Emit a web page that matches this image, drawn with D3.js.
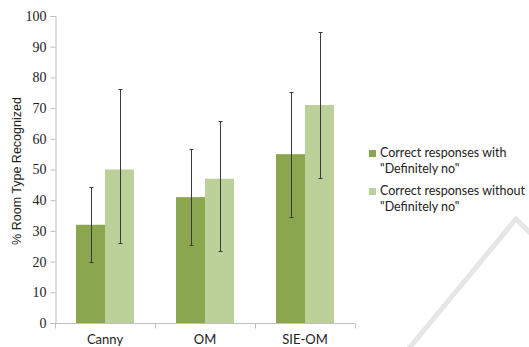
<!DOCTYPE html>
<html>
<head>
<meta charset="utf-8">
<script src="https://cdn.jsdelivr.net/npm/d3@7"></script>
<style>
  html, body { margin: 0; padding: 0; background: #fff; }
  svg { display: block; }
  .sans-label { font-family: Lato, "Open Sans", sans-serif; fill: #222; }
  .serif-tick { font-family: "Liberation Serif", "Times New Roman", Times, serif; }
</style>
</head>
<body>
<svg id="chart" width="529" height="347"></svg>
<script>
// Recognition rates per method, with and without "Definitely no" answers
const categories = ["Canny", "OM", "SIE-OM"];
const seriesNames = ['Correct responses with\n"Definitely no"', 'Correct responses without\n"Definitely no"'];
const withDefinitelyNo = [32, 41, 55];
const withoutDefinitelyNo = [50, 47, 71];
// error bar extents (low, high)
const withLow = [19.8, 25.3, 34.6];
const withHigh = [44.3, 56.6, 75.2];
const withoutLow = [26.1, 23.3, 47.1];
const withoutHigh = [76.2, 65.7, 94.7];
const yTicks = [0, 10, 20, 30, 40, 50, 60, 70, 80, 90, 100];

const colors = ["#8aa64f", "#bcd09a"];

const svg = d3.select("#chart");
const plot = { left: 55, right: 355, top: 16, bottom: 323 };

const x0 = d3.scaleBand().domain(categories).range([plot.left, plot.right]).padding(0);
const x1 = d3.scaleBand().domain([0, 1]).range([21, 79]).padding(0);
const y = d3.scaleLinear().domain([0, 100]).range([plot.bottom, plot.top]);

// faint background stroke in the lower right
svg.append("path")
  .attr("d", "M406,352 L516,219 L560,262")
  .attr("fill", "none")
  .attr("stroke", "#e6e6e6")
  .attr("stroke-width", 5);

const rows = categories.map((c, i) => ({
  cat: c,
  vals: [
    { s: 0, v: withDefinitelyNo[i], lo: withLow[i], hi: withHigh[i] },
    { s: 1, v: withoutDefinitelyNo[i], lo: withoutLow[i], hi: withoutHigh[i] }
  ]
}));

const groups = svg.append("g").selectAll("g").data(rows).join("g")
  .attr("transform", d => `translate(${x0(d.cat)},0)`);

groups.selectAll("rect").data(d => d.vals).join("rect")
  .attr("x", d => x1(d.s))
  .attr("width", x1.bandwidth())
  .attr("y", d => y(d.v))
  .attr("height", d => y(0) - y(d.v))
  .attr("fill", d => colors[d.s]);

// error bars
const eb = groups.selectAll("g.err").data(d => d.vals).join("g").attr("class", "err");
const cx = d => Math.round(x1(d.s) + x1.bandwidth() / 2) + 0.5;
eb.append("line")
  .attr("x1", cx).attr("x2", cx)
  .attr("y1", d => y(d.lo)).attr("y2", d => y(d.hi))
  .attr("stroke", "#3a3a3a").attr("stroke-width", 1);
eb.selectAll("line.cap").data(d => [[d, d.lo], [d, d.hi]]).join("line")
  .attr("class", "cap")
  .attr("x1", d => cx(d[0]) - 2).attr("x2", d => cx(d[0]) + 2)
  .attr("y1", d => Math.round(y(d[1])) + 0.5).attr("y2", d => Math.round(y(d[1])) + 0.5)
  .attr("stroke", "#3a3a3a").attr("stroke-width", 1);

// y axis with serif tick labels
const yAxis = d3.axisLeft(y).tickValues(yTicks).tickSize(5).tickPadding(4).tickFormat(d3.format("d"));
const gy = svg.append("g")
  .attr("transform", `translate(${plot.left + 0.5},0)`).call(yAxis)
  .attr("font-family", null).attr("font-size", null);
gy.select(".domain").attr("stroke", "#bfbfbf");
gy.selectAll(".tick line").attr("stroke", "#bfbfbf");
gy.selectAll(".tick text")
  .attr("class", "serif-tick")
  .attr("font-size", 14)
  .attr("fill", "#222");

// x axis: ticks at band boundaries
const gx = svg.append("g").attr("transform", `translate(0,${plot.bottom + 0.5})`);
gx.append("line").attr("x1", plot.left).attr("x2", plot.right).attr("stroke", "#bfbfbf");
const bounds = categories.map(c => x0(c)).concat([plot.right]);
gx.selectAll("line.tk").data(bounds).join("line").attr("class", "tk")
  .attr("x1", d => Math.round(d) + 0.5).attr("x2", d => Math.round(d) + 0.5)
  .attr("y1", 0).attr("y2", 5).attr("stroke", "#bfbfbf");
gx.selectAll("text").data(categories).join("text")
  .attr("class", "sans-label")
  .attr("x", d => x0(d) + x0.bandwidth() / 2)
  .attr("y", 20)
  .attr("text-anchor", "middle")
  .style("font-size", "13px")
  .text(d => d);

// y axis title
svg.append("text")
  .attr("transform", "translate(21,171) rotate(-90)")
  .attr("text-anchor", "middle")
  .style("font-family", "'Liberation Sans', Arial, sans-serif")
  .style("font-size", "12.5px").style("fill", "#222")
  .text("% Room Type Recognized");

// legend
const legend = svg.append("g").selectAll("g").data(seriesNames).join("g")
  .attr("transform", (d, i) => `translate(369,${150 + i * 38})`);
legend.append("rect").attr("width", 7).attr("height", 7).attr("fill", (d, i) => colors[i]);
legend.append("text")
  .attr("class", "sans-label")
  .attr("x", 11).attr("y", 7)
  .style("font-size", "12.5px")
  .selectAll("tspan").data(d => d.split("\n")).join("tspan")
  .attr("x", 11).attr("dy", (d, i) => i === 0 ? 0 : 16)
  .text(d => d);
</script>
</body>
</html>
